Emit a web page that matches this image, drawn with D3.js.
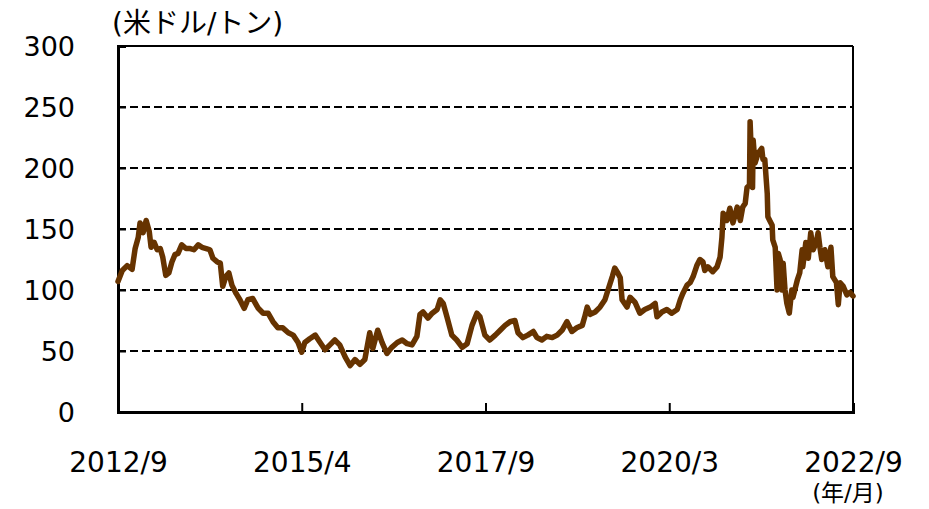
<!DOCTYPE html>
<html><head><meta charset="utf-8">
<script src="https://cdn.jsdelivr.net/npm/d3@7"></script>
<style>
html,body{margin:0;padding:0;background:#fff;}
svg{display:block;}
</style></head>
<body>
<svg id="chart" width="929" height="509"></svg>
<script>
// months elapsed since 2012/9
const months = [0.0,0.7,1.5,2.3,2.8,3.3,3.6,4.1,4.6,5.1,5.4,5.9,6.4,6.9,7.3,7.8,8.3,8.8,9.3,9.8,
10.4,11.1,11.8,12.4,13.1,13.7,14.4,15.0,15.5,16.2,16.7,17.1,17.6,18.1,18.6,19.3,19.9,20.6,21.2,22.0,
22.9,23.7,24.5,25.3,26.1,26.9,27.8,28.6,29.4,30.0,30.5,31.3,32.2,33.0,33.8,34.6,35.4,36.2,37.1,37.9,
38.7,39.5,40.3,41.1,41.6,42.4,43.1,43.9,44.7,45.6,46.4,47.2,48.0,48.8,49.3,49.8,50.6,51.3,52.1,52.6,
53.1,53.7,54.5,55.3,56.2,57.0,57.8,58.6,59.1,59.9,60.7,61.6,62.4,63.2,64.0,64.8,65.3,66.1,66.9,67.8,
68.4,69.2,70.0,70.9,71.7,72.5,73.3,74.1,74.9,75.8,76.2,76.6,77.1,77.9,78.7,79.5,80.0,80.7,81.1,81.6,
82.0,82.3,83.1,83.6,84.4,85.2,86.0,86.9,87.7,88.0,88.8,89.6,90.4,91.3,91.8,92.2,92.9,93.4,93.9,94.5,
95.0,95.5,95.8,96.3,97.1,97.8,98.3,98.6,98.8,99.4,99.9,100.4,101.1,101.6,102.0,102.4,102.7,103.1,103.2,103.6,
103.7,104.0,104.5,105.1,105.3,105.6,106.0,106.1,106.4,106.8,106.9,107.3,107.6,107.8,108.1,108.4,108.6,108.9,109.2,109.6,
110.0,110.2,110.9,111.3,111.7,111.8,112.3,112.7,113.1,113.5,114.0,114.3,114.6,114.9,115.4,115.9,116.4,116.7,117.3,117.6,
117.9,118.4,119.0,119.5,120.0];
// price, US$/ton
const prices = [107,116,120,117,134,143,155,147,157,148,135,139,133,134,127,112,114,123,129,130,
137,134,134,133,137,135,134,133,126,123,122,103,111,114,104,97,92,85,92,93,
85,81,81,74,69,69,65,63,57,49,57,60,63,57,51,55,59,55,45,38,
43,39,43,65,52,67,57,48,53,57,59,56,55,62,80,82,77,81,84,92,
89,78,63,59,53,56,71,81,78,63,59,63,67,71,74,75,65,61,63,66,
61,59,62,61,63,67,74,66,69,71,78,86,80,82,86,92,100,111,118,114,
110,92,86,94,90,81,84,86,89,78,82,84,81,84,92,97,104,106,111,120,
125,123,116,119,115,119,127,143,163,157,167,155,168,157,168,171,184,186,238,184,
223,204,212,216,207,207,179,160,157,153,141,135,100,130,125,100,122,100,89,81,
100,94,108,114,133,119,139,126,147,133,139,147,135,125,133,119,135,111,106,88,
106,103,96,98,95];

const xTickMonths = [0, 30, 60, 90, 120];
const xTickLabels = ["2012/9", "2015/4", "2017/9", "2020/3", "2022/9"];
const yTicks = [0, 50, 100, 150, 200, 250, 300];
const yUnit = "(米ドル/トン)";
const xUnit = "(年/月)";

const data = months.map((m, i) => ({m, v: prices[i]}));

const svg = d3.select("#chart");
const L = 118, R = 853, T = 46, B = 412;
const x = d3.scaleLinear().domain([0, 120]).range([L, R]);
const y = d3.scaleLinear().domain([0, 300]).range([B, T]);
const font = "'DejaVu Sans','Noto Sans CJK JP',sans-serif";

// dashed gridlines
svg.append("g").selectAll("line").data(yTicks.filter(d => d > 0 && d < 300)).join("line")
  .attr("x1", L).attr("x2", R).attr("y1", d => y(d)).attr("y2", d => y(d))
  .attr("stroke", "#000").attr("stroke-width", 2).attr("stroke-dasharray", "8,4");

// frame top/right
svg.append("line").attr("x1", L).attr("x2", R).attr("y1", T).attr("y2", T)
  .attr("stroke", "#000").attr("stroke-width", 2);
svg.append("line").attr("x1", R).attr("x2", R).attr("y1", T).attr("y2", B)
  .attr("stroke", "#000").attr("stroke-width", 2);

// y axis
const yAxis = d3.axisLeft(y).tickValues(yTicks).tickSize(-8).tickPadding(0).tickFormat(d3.format("d"));
const gy = svg.append("g").attr("transform", `translate(${L},0)`).call(yAxis);
gy.select(".domain").attr("stroke", "#000").attr("stroke-width", 3);
gy.selectAll(".tick line").attr("stroke", "#000").attr("stroke-width", 2);
gy.selectAll(".tick text").attr("x", -43).attr("font-family", font).attr("font-size", 27)
  .attr("fill", "#000").attr("dy", "0.36em");

// x axis
const xAxis = d3.axisBottom(x).tickValues(xTickMonths).tickSize(-9).tickPadding(0)
  .tickFormat((d, i) => xTickLabels[i]);
const gx = svg.append("g").attr("transform", `translate(0,${B})`).call(xAxis);
gx.select(".domain").attr("stroke", "#000").attr("stroke-width", 3);
gx.selectAll(".tick line").attr("stroke", "#000").attr("stroke-width", 2);
gx.selectAll(".tick text").attr("y", 60).attr("dy", 0).attr("font-family", font)
  .attr("font-size", 28).attr("fill", "#000");

// line
const line = d3.line().x(d => x(d.m)).y(d => y(d.v));
svg.append("path").datum(data).attr("d", line)
  .attr("fill", "none").attr("stroke", "#663300").attr("stroke-width", 5.5)
  .attr("stroke-linejoin", "round").attr("stroke-linecap", "round");

// unit labels
svg.append("text").attr("x", 112).attr("y", 33).attr("font-family", font)
  .attr("font-size", 28).attr("fill", "#000").text(yUnit);
svg.append("text").attr("x", 848).attr("y", 501).attr("text-anchor", "middle")
  .attr("font-family", font).attr("font-size", 23).attr("fill", "#000").text(xUnit);
</script>
</body></html>
